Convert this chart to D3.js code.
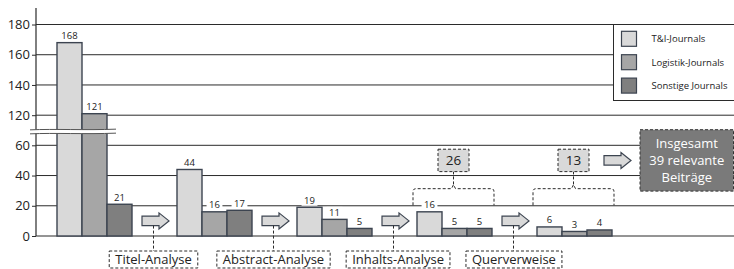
<!DOCTYPE html>
<html>
<head>
<meta charset="utf-8">
<script src="https://cdn.jsdelivr.net/npm/d3@7"></script>
<style>
  body { margin: 0; background: #fff; }
  svg { display: block; font-family: "Open Sans", sans-serif; }
</style>
</head>
<body>
<svg id="chart" width="734" height="269"></svg>
<script>
var stages = ["Suche", "Titel", "Abstract", "Inhalt", "Querverweise"];
var series = ["T&I-Journals", "Logistik-Journals", "Sonstige Journals"];
var tiValues = [168, 44, 19, 16, 6];
var logValues = [121, 16, 11, 5, 3];
var otherValues = [21, 17, 5, 5, 4];
var stepLabels = ["Titel-Analyse", "Abstract-Analyse", "Inhalts-Analyse", "Querverweise"];
var sumStages = ["Inhalt", "Querverweise"];
var sumValues = [26, 13];
var totalLines = ["Insgesamt", "39 relevante", "Beiträge"];
var lowTicks = [0, 20, 40, 60];
var highTicks = [120, 140, 160, 180];
var colors = ["#d9d9d9", "#a6a6a6", "#7f7f7f"];

var svg = d3.select("#chart");
var W = 734;
var axisX = 36;
var ink = "#2b2b2b";
var barStroke = "#3c4450";

var x0 = d3.scaleBand().domain(stages).range([axisX, 633]).paddingInner(0.375).paddingOuter(0.175);
var x1 = d3.scaleBand().domain(series).range([0, x0.bandwidth()]);
var yLow = d3.scaleLinear().domain([0, 60]).range([236, 145.3]);
var yHigh = d3.scaleLinear().domain([120, 180]).range([115.2, 24.5]);
var color = d3.scaleOrdinal().domain(series).range(colors);

function yVal(v) { return v <= 60 ? yLow(v) : yHigh(v); }

var data = stages.map(function (s, i) {
  return { stage: s, values: [tiValues[i], logValues[i], otherValues[i]] };
});

// gridlines
svg.append("g").selectAll("line")
  .data(lowTicks.map(yLow).concat(highTicks.map(yHigh)))
  .enter().append("line")
  .attr("x1", axisX).attr("x2", W)
  .attr("y1", function (d) { return d; }).attr("y2", function (d) { return d; })
  .attr("stroke", ink).attr("stroke-width", 1);

// axes (ticks + labels)
[[yLow, lowTicks], [yHigh, highTicks]].forEach(function (p) {
  var g = svg.append("g")
    .attr("transform", "translate(" + axisX + ",0)")
    .call(d3.axisLeft(p[0]).tickValues(p[1]).tickSize(4).tickPadding(2));
  g.select(".domain").remove();
  g.selectAll("line").attr("stroke", ink);
  g.selectAll("text").attr("font-size", 13).attr("fill", "#222")
    .style("font-family", "'Open Sans', sans-serif");
});

// bars
var groups = svg.append("g").selectAll("g")
  .data(data).enter().append("g")
  .attr("transform", function (d) { return "translate(" + x0(d.stage) + ",0)"; });

groups.selectAll("rect")
  .data(function (d) { return d.values.map(function (v, j) { return { key: series[j], value: v }; }); })
  .enter().append("rect")
  .attr("x", function (d) { return x1(d.key); })
  .attr("y", function (d) { return yVal(d.value); })
  .attr("width", x1.bandwidth())
  .attr("height", function (d) { return yLow(0) - yVal(d.value); })
  .attr("fill", function (d) { return color(d.key); })
  .attr("stroke", barStroke).attr("stroke-width", 1.4);

// value labels with white background
var labels = groups.selectAll("g.lab")
  .data(function (d) { return d.values.map(function (v, j) { return { key: series[j], value: v }; }); })
  .enter().append("g").attr("class", "lab")
  .attr("transform", function (d) {
    return "translate(" + (x1(d.key) + x1.bandwidth() / 2) + "," + (yVal(d.value) - 7) + ")";
  });
labels.append("rect").attr("fill", "#fff");
labels.append("text")
  .attr("text-anchor", "middle").attr("dy", "0.35em")
  .attr("font-size", 9.5).attr("fill", "#222")
  .text(function (d) { return d.value; });
labels.each(function () {
  var g = d3.select(this);
  var w = g.select("text").node().getComputedTextLength() + 5;
  g.select("rect").attr("x", -w / 2).attr("y", -5.5).attr("width", w).attr("height", 11);
});

// axis break
var breakY = (yLow(60) + yHigh(120)) / 2 + 1.3;
svg.append("rect").attr("x", 28).attr("y", breakY - 2).attr("width", 90).attr("height", 4).attr("fill", "#fff");

// y axis line
svg.append("line").attr("x1", axisX).attr("x2", axisX).attr("y1", 8).attr("y2", breakY - 2)
  .attr("stroke", ink).attr("stroke-width", 1.2);
svg.append("line").attr("x1", axisX).attr("x2", axisX).attr("y1", breakY + 2).attr("y2", yLow(0))
  .attr("stroke", ink).attr("stroke-width", 1.2);

[-2, 2].forEach(function (o) {
  var y = breakY + o;
  svg.append("path")
    .attr("d", "M30," + (y + 0.3) + " C55," + (y - 0.8) + " 85," + (y + 0.8) + " 116," + (y - 0.4))
    .attr("fill", "none").attr("stroke", "#555").attr("stroke-width", 1);
});

// step arrows, dashed connectors, step label boxes
function arrowPath(x, cy) {
  return "M" + x + "," + (cy - 4.7) + "h17v-3.3l10,8l-10,8v-3.3h-17z";
}
var dash = "3,2";
var prevRight = -Infinity;
stepLabels.forEach(function (lab, i) {
  var ax = x0(stages[i]) + x0.bandwidth() + 10;
  var cy = yLow(10);
  svg.append("path").attr("d", arrowPath(ax, cy))
    .attr("fill", colors[0]).attr("stroke", barStroke).attr("stroke-width", 1.2);
  var lx = ax + 11.5;
  svg.append("line").attr("x1", lx).attr("x2", lx).attr("y1", cy + 4.7).attr("y2", 251)
    .attr("stroke", ink).attr("stroke-dasharray", dash);
  var box = svg.append("rect").attr("fill", "#fff").attr("stroke", ink).attr("stroke-dasharray", dash);
  var t = svg.append("text").attr("font-size", 13).attr("fill", "#222").text(lab);
  var bw = t.node().getComputedTextLength() + 12;
  var left = Math.max(lx - bw / 2, prevRight + 16);
  prevRight = left + bw;
  box.attr("x", left).attr("y", 251).attr("width", bw).attr("height", 17);
  t.attr("x", left + 6).attr("y", 264);
});

// brackets with sum boxes
sumStages.forEach(function (s, i) {
  var l = x0(s) - 4, r = x0(s) + x0.bandwidth() + 2, m = (l + r) / 2;
  var top = yLow(31.3), bot = yLow(20) - 0.5;
  svg.append("path")
    .attr("d", "M" + l + "," + bot + "V" + (top + 3) + "Q" + l + "," + top + " " + (l + 3) + "," + top +
      "H" + (m - 2) + "L" + m + "," + (top - 4) + "L" + (m + 2) + "," + top +
      "H" + (r - 3) + "Q" + r + "," + top + " " + r + "," + (top + 3) + "V" + bot)
    .attr("fill", "none").attr("stroke", ink).attr("stroke-dasharray", dash);
  var cy = yLow(50);
  svg.append("line").attr("x1", m).attr("x2", m).attr("y1", cy + 11).attr("y2", top - 4)
    .attr("stroke", ink).attr("stroke-dasharray", dash);
  svg.append("rect").attr("x", m - 15.5).attr("y", cy - 11.2).attr("width", 31).attr("height", 22.4)
    .attr("fill", colors[0]).attr("stroke", ink).attr("stroke-dasharray", dash);
  svg.append("text").attr("x", m).attr("y", cy).attr("dy", "0.36em").attr("text-anchor", "middle")
    .attr("font-size", 13.5).attr("fill", "#222").text(sumValues[i]);
});

// final arrow and total box
var lastStage = stages[stages.length - 1];
var fax = x0(lastStage) + x0.bandwidth() - 8;
var fcy = yLow(50);
svg.append("path").attr("d", arrowPath(fax, fcy))
  .attr("fill", colors[0]).attr("stroke", barStroke).attr("stroke-width", 1.2);
var bx = fax + 36;
svg.append("rect").attr("x", bx).attr("y", fcy - 30.7).attr("width", 93.5).attr("height", 61.4)
  .attr("fill", "#7a7a7a").attr("stroke", "#333").attr("stroke-dasharray", dash);
svg.append("text").attr("text-anchor", "middle").attr("font-size", 13).attr("fill", "#fff")
  .selectAll("tspan").data(totalLines).enter().append("tspan")
  .attr("x", bx + 46.75).attr("y", function (d, i) { return fcy - 16.5 + i * 17; })
  .attr("dy", "0.35em").text(function (d) { return d; });

// legend
var lg = svg.append("g").attr("transform", "translate(613.5,24.5)");
lg.append("rect").attr("width", 130).attr("height", 76).attr("fill", "#fff")
  .attr("stroke", ink).attr("stroke-width", 1);
var li = lg.selectAll("g.item").data(series).enter().append("g")
  .attr("transform", function (d, i) { return "translate(8," + (6.8 + i * 23.4) + ")"; });
li.append("rect").attr("width", 15).attr("height", 15)
  .attr("fill", function (d) { return color(d); }).attr("stroke", barStroke).attr("stroke-width", 1.2);
li.append("text").attr("x", 30).attr("y", 7.5).attr("dy", "0.35em")
  .attr("font-size", 9.5).attr("fill", "#222").text(function (d) { return d; });
</script>
</body>
</html>
